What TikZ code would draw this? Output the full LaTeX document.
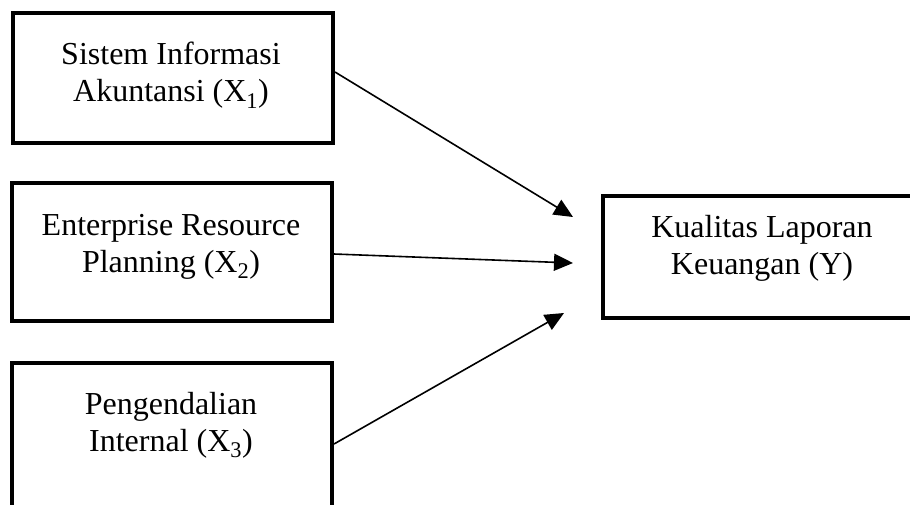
\documentclass[tikz,border=0pt]{standalone}
\usepackage{fontspec}
\setmainfont{Liberation Serif}
\usetikzlibrary{arrows.meta}
\begin{document}
\begin{tikzpicture}[x=1pt,y=-1pt,
  box/.style={draw=black,line width=4pt,rectangle,inner sep=0pt,fill=white},
  txt/.style={align=center,inner sep=0pt,font=\fontsize{32}{37}\selectfont},
  arr/.style={line width=1.6pt,-{Triangle[length=19pt,width=17pt]}}]
\useasboundingbox (0,0) rectangle (910,504);
\begin{scope}
\clip (0,0) rectangle (910,504);
\node[box,minimum width=320pt,minimum height=130pt] (x1) at (173,78) {};
\node[box,minimum width=320pt,minimum height=138pt] (x2) at (172,252) {};
\node[box,minimum width=320pt,minimum height=146pt] (x3) at (172,436) {};
\node[box,minimum width=318pt,minimum height=122pt] (y) at (762,257) {};
\end{scope}
\node[txt] (t1) at (171,75.5) {Sistem Informasi\\Akuntansi (X\textsubscript{1})};
\node[txt] (t2) at (171,246.5) {Enterprise Resource\\Planning (X\textsubscript{2})};
\node[txt] (t3) at (171,425.5) {Pengendalian\\Internal (X\textsubscript{3})};
\node[txt] (ty) at (762,248.5) {Kualitas Laporan\\Keuangan (Y)};
\coordinate (e1) at (573,217);
\coordinate (e2) at (573,263);
\coordinate (e3) at (564,313);
\draw[arr] ([yshift=6pt]x1.east) -- (e1);
\draw[arr] ([yshift=-2pt]x2.east) -- (e2);
\draw[arr] ([yshift=-8pt]x3.east) -- (e3);
\end{tikzpicture}
\end{document}
